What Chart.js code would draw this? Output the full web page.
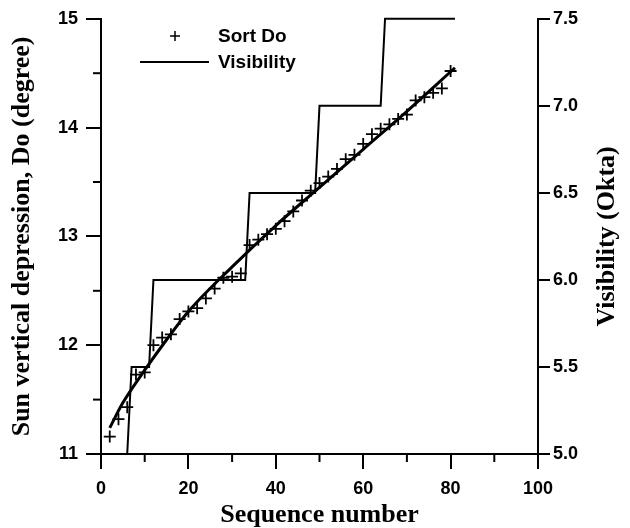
<!DOCTYPE html>
<html>
<head>
<title>Sun vertical depression and visibility</title>
<script src="https://cdn.jsdelivr.net/npm/chart.js"></script>
<style>
  body { margin: 0; background: #fff; }
  #wrap { width: 630px; height: 528px; }
</style>
</head>
<body>
<div id="wrap"><canvas id="doChart" width="630" height="528"></canvas></div>

<script>
// sorted Do markers, every second sequence number
const seqNumbers = [2, 4, 6, 8, 10, 12, 14, 16, 18, 20, 22, 24, 26, 28, 30, 32, 34, 36, 38, 40,
                    42, 44, 46, 48, 50, 52, 54, 56, 58, 60, 62, 64, 66, 68, 70, 72, 74, 76, 78, 80];
const sortDo = [11.16, 11.32, 11.43, 11.73, 11.75, 12.0, 12.07, 12.1, 12.24, 12.31,
                12.34, 12.43, 12.52, 12.62, 12.63, 12.66, 12.92, 12.97, 13.02, 13.07,
                13.14, 13.23, 13.33, 13.42, 13.49, 13.55, 13.62, 13.71, 13.75, 13.85,
                13.94, 13.99, 14.03, 14.08, 14.12, 14.25, 14.28, 14.32, 14.36, 14.52];

// fitted curve
const fitSeq = [2, 5, 10, 15, 20, 30, 40, 50, 60, 70, 81];
const fitDo = [11.24, 11.47, 11.77, 12.05, 12.31, 12.72, 13.1, 13.45, 13.8, 14.15, 14.55];

// visibility steps (right axis)
const visSeq = [2, 6, 7, 11, 12, 33, 34, 49, 50, 64, 65, 81];
const visOkta = [5.0, 5.0, 5.5, 5.5, 6.0, 6.0, 6.5, 6.5, 7.0, 7.0, 7.5, 7.5];

const xMajor = [0, 20, 40, 60, 80, 100];
const leftMajor = [11, 12, 13, 14, 15];
const rightTicks = [5.0, 5.5, 6.0, 6.5, 7.0, 7.5];

const tickFont = { family: '"Liberation Sans", Arial, sans-serif', size: 18, weight: 'bold' };
const titleFont = { family: '"Liberation Serif", "Times New Roman", serif', size: 26, weight: 'bold', lineHeight: 1 };

const pts = (xs, ys) => xs.map((x, i) => ({ x: x, y: ys[i] }));

// short minor ticks, legend inside the plot, right title reading upwards
const extras = {
  id: 'extras',
  afterDraw(chart) {
    const ctx = chart.ctx;
    const xs = chart.scales.x, ys = chart.scales.y;
    ctx.save();
    ctx.strokeStyle = '#000';
    ctx.lineWidth = 2;
    xs.ticks.forEach(t => {
      if (xMajor.includes(t.value)) return;
      const px = xs.getPixelForValue(t.value);
      ctx.beginPath(); ctx.moveTo(px, xs.top); ctx.lineTo(px, xs.top + 8); ctx.stroke();
    });
    ys.ticks.forEach(t => {
      if (leftMajor.includes(t.value)) return;
      const py = ys.getPixelForValue(t.value);
      ctx.beginPath(); ctx.moveTo(ys.right, py); ctx.lineTo(ys.right - 8, py); ctx.stroke();
    });

    // legend
    const ds = chart.data.datasets;
    ctx.font = 'bold 19px "Liberation Sans", Arial, sans-serif';
    ctx.fillStyle = '#000';
    ctx.textBaseline = 'middle';
    ctx.textAlign = 'left';
    ctx.lineWidth = 1.5;
    ctx.beginPath();
    ctx.moveTo(170, 36); ctx.lineTo(180, 36);
    ctx.moveTo(175, 31); ctx.lineTo(175, 41);
    ctx.stroke();
    ctx.fillText(ds[0].label, 218, 37);
    ctx.lineWidth = 2;
    ctx.beginPath(); ctx.moveTo(140, 62); ctx.lineTo(209, 62); ctx.stroke();
    ctx.fillText(ds[2].label, 218, 63);

    // right axis title
    ctx.translate(607, (chart.chartArea.top + chart.chartArea.bottom) / 2);
    ctx.rotate(-Math.PI / 2);
    ctx.textAlign = 'center';
    ctx.font = 'bold 26px "Liberation Serif", "Times New Roman", serif';
    ctx.fillText('Visibility (Okta)', 0, 0);
    ctx.restore();
  }
};

new Chart(document.getElementById('doChart').getContext('2d'), {
  type: 'scatter',
  data: {
    datasets: [
      {
        label: 'Sort Do',
        data: pts(seqNumbers, sortDo),
        yAxisID: 'y',
        showLine: false,
        pointStyle: 'cross',
        pointRadius: 6,
        pointBorderWidth: 1.8,
        borderColor: '#000',
        backgroundColor: '#000'
      },
      {
        label: 'fit',
        data: pts(fitSeq, fitDo),
        yAxisID: 'y',
        showLine: true,
        pointRadius: 0,
        borderWidth: 3,
        borderColor: '#000',
        cubicInterpolationMode: 'monotone'
      },
      {
        label: 'Visibility',
        data: pts(visSeq, visOkta),
        yAxisID: 'y2',
        showLine: true,
        pointRadius: 0,
        borderWidth: 2,
        borderColor: '#000',
        tension: 0,
        clip: 4
      }
    ]
  },
  options: {
    responsive: false,
    animation: false,
    layout: { padding: { top: 16, left: 0, right: 0, bottom: 0 } },
    plugins: { legend: { display: false }, tooltip: { enabled: false } },
    scales: {
      x: {
        type: 'linear',
        min: 0, max: 100,
        afterFit: s => { s.height = 74; },
        ticks: {
          stepSize: 10, autoSkip: false, maxRotation: 0, padding: 9,
          color: '#000', font: tickFont,
          callback: v => xMajor.includes(v) ? v : ''
        },
        grid: {
          drawOnChartArea: false, tickLength: 15, lineWidth: 2,
          color: c => (c.tick && xMajor.includes(c.tick.value)) ? '#000' : 'rgba(0,0,0,0)'
        },
        border: { color: '#000', width: 2 },
        title: { display: true, text: 'Sequence number', color: '#000', font: titleFont, padding: { top: 0, bottom: 0 } }
      },
      y: {
        position: 'left',
        min: 11, max: 15,
        afterFit: s => { s.width = 101; },
        ticks: {
          stepSize: 0.5, autoSkip: false, padding: 8,
          color: '#000', font: tickFont,
          callback: v => leftMajor.includes(v) ? v : ''
        },
        grid: {
          drawOnChartArea: false, tickLength: 15, lineWidth: 2,
          color: c => (c.tick && leftMajor.includes(c.tick.value)) ? '#000' : 'rgba(0,0,0,0)'
        },
        border: { color: '#000', width: 2 },
        title: { display: true, text: 'Sun vertical depression, Do (degree)', color: '#000', font: titleFont, padding: { top: 9, bottom: 0 } }
      },
      y2: {
        position: 'right',
        min: 5, max: 7.5,
        afterFit: s => { s.width = 92; },
        afterBuildTicks: s => { s.ticks = rightTicks.map(v => ({ value: v })); },
        ticks: {
          autoSkip: false, padding: 3,
          color: '#000', font: tickFont,
          callback: v => v.toFixed(1)
        },
        grid: { drawOnChartArea: false, tickLength: 12, lineWidth: 2, color: '#000' },
        border: { color: '#000', width: 2 }
      }
    }
  },
  plugins: [extras]
});
</script>
</body>
</html>
